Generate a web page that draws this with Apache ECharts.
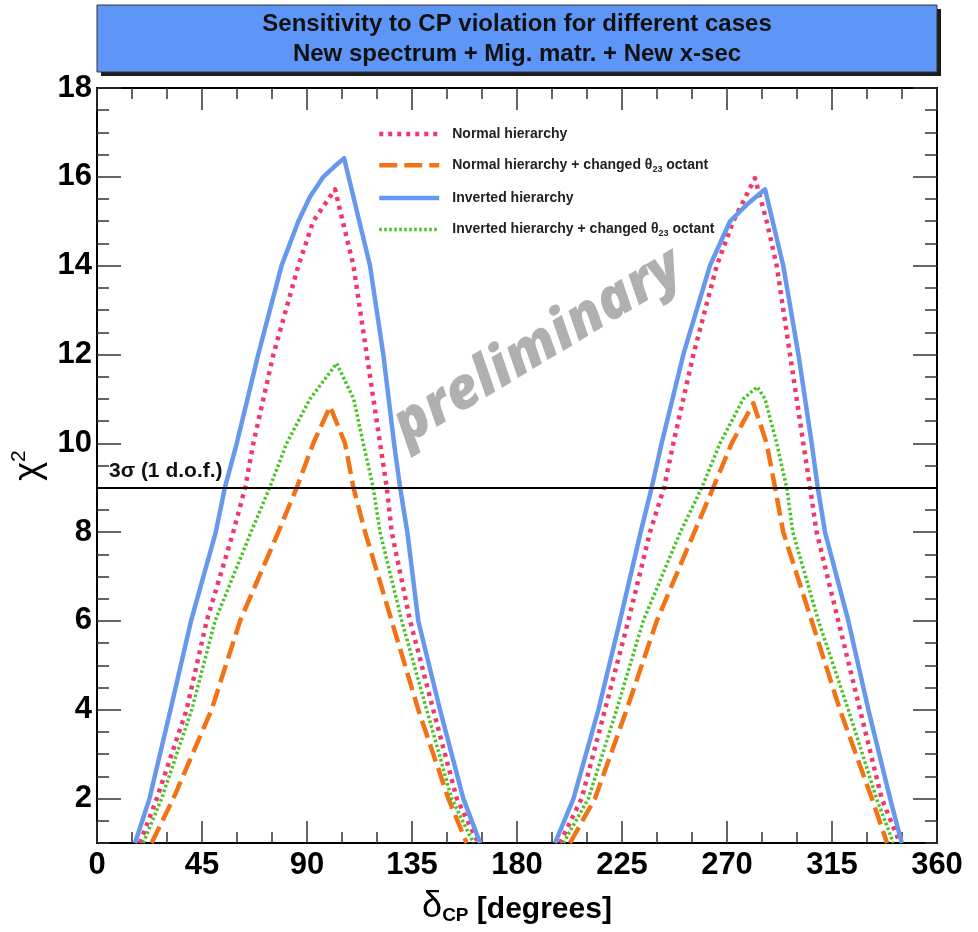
<!DOCTYPE html>
<html>
<head>
<meta charset="utf-8">
<script src="https://cdn.jsdelivr.net/npm/echarts@6/dist/echarts.min.js"></script>
<style>
  html, body { margin: 0; padding: 0; background: #fff; }
  #chart { width: 978px; height: 932px; }
</style>
</head>
<body>
<div id="chart"></div>
<script>
// chi^2 for rejecting CP conservation versus the true delta_CP (degrees).
// Each curve has two lobes; values below the plot floor are not drawn.
const normalLeft = [[18.4,1],[25.6,2],[38.4,4],[47,6],[58.4,8],[63.5,9],[67,10],[75.6,12],[86.3,14],[92.7,15],[102,15.72],[109.9,14],[115.6,12],[121.3,10],[124.2,9],[126.3,8],[134.2,6],[144.1,4],[154.2,2],[163.4,1]];
const normalRight = [[198.4,1],[207.7,2],[217.7,4],[227.7,6],[237,8],[243,9],[247,10],[255.6,12],[265.6,14],[272.7,15],[282,15.97],[287,15],[291.3,14],[297,12],[302.7,10],[305.6,9],[308.4,8],[317.7,6],[327,4],[336.3,2],[344.1,1]];

const normalOctantLeft = [[23.4,1],[32.7,2],[49.1,4],[61.3,6],[77.7,8],[85.6,9],[92.7,10],[99.9,10.83],[106.3,10],[109.9,9],[114.9,8],[126.3,6],[137.7,4],[150.6,2],[158.4,1]];
const normalOctantRight = [[202.7,1],[213.4,2],[227,4],[239.9,6],[256,8],[264.1,9],[272,10],[281.3,10.9],[287,10],[290.6,9],[294.1,8],[306.3,6],[318.4,4],[332.1,2],[338.6,1]];

const invertedLeft = [[16.3,1],[22.5,2],[31.5,4],[40.3,6],[50.9,8],[54.8,9],[59.9,10],[69.1,12],[79.1,14],[86.3,15],[91.3,15.55],[97,16],[101.5,16.22],[105.9,16.42],[117,14],[122.7,12],[127.3,10],[129.9,9],[133,8],[137.7,6],[147,4],[157,2],[164.2,1]];
const invertedRight = [[196.3,1],[204.2,2],[214.9,4],[224.1,6],[233,8],[237.7,9],[242,10],[251.3,12],[262.7,14],[271.3,15],[278.4,15.37],[286.3,15.72],[294.1,14],[300.6,12],[306.3,10],[308.9,9],[312,8],[322,6],[330.6,4],[339.9,2],[344.9,1]];

const invertedOctantLeft = [[19.8,1],[27.7,2],[40.6,4],[50.6,6],[66,8],[74,9],[81.3,10],[91.3,11],[102.7,11.8],[110,11],[114.1,10],[118.4,9],[121.3,8],[130.6,6],[141.3,4],[152,2],[161.3,1]];
const invertedOctantRight = [[199.9,1],[210.6,2],[222.7,4],[234.1,6],[250,8],[259.2,9],[267,10],[277,11],[283,11.27],[286.3,11],[291.3,10],[295.6,9],[298.2,8],[309.2,6],[322,4],[334.1,2],[341.3,1]];

const seriesNames = [
  'Normal hierarchy',
  'Normal hierarchy + changed θ23 octant',
  'Inverted hierarchy',
  'Inverted hierarchy + changed θ23 octant'
];

const threeSigma = 9;               // chi^2 for 3 sigma, 1 degree of freedom
const xTickLabels = [0, 45, 90, 135, 180, 225, 270, 315, 360];
const yTickLabels = [2, 4, 6, 8, 10, 12, 14, 16, 18];

const sans = "'Liberation Sans', Arial, sans-serif";

// left lobe, a gap, then right lobe
function lobes(a, b) { return a.concat([[null, null]], b); }

const chart = echarts.init(document.getElementById('chart'), null, { renderer: 'canvas' });

const tickStyle = { color: '#333', width: 1.5 };
const frameLine = { show: true, lineStyle: { color: '#000', width: 2 } };

function lineSeries(name, data, color, width, type) {
  return {
    name: name,
    type: 'line',
    data: data,
    xAxisIndex: 0,
    yAxisIndex: 0,
    showSymbol: false,
    symbol: 'none',
    connectNulls: false,
    clip: true,
    lineStyle: { color: color, width: width, type: type, cap: 'butt', join: 'round' },
    itemStyle: { color: color },
    emphasis: { disabled: true },
    z: 3
  };
}

const option = {
  animation: false,
  backgroundColor: '#fff',
  grid: {
    left: 97, top: 88, right: 41, bottom: 89,
    show: true, borderColor: '#000', borderWidth: 2, backgroundColor: '#fff'
  },
  xAxis: [
    {
      type: 'value', position: 'bottom', min: 0, max: 360, interval: 45,
      axisLine: frameLine,
      axisTick: { show: true, inside: true, length: 22, lineStyle: tickStyle },
      minorTick: { show: true, splitNumber: 3, length: 11, lineStyle: tickStyle },
      splitLine: { show: false },
      axisLabel: {
        margin: 7, color: '#000', fontFamily: sans, fontWeight: 'bold', fontSize: 31,
        customValues: xTickLabels
      },
      name: '{d|δ}{s|CP}{t| [degrees]}',
      nameLocation: 'middle',
      nameGap: 46,
      nameTextStyle: {
        rich: {
          d: { fontFamily: sans, fontSize: 36, color: '#000', verticalAlign: 'bottom' },
          s: { fontFamily: sans, fontWeight: 'bold', fontSize: 19, color: '#000', padding: [14, 0, 0, 0], verticalAlign: 'bottom' },
          t: { fontFamily: sans, fontWeight: 'bold', fontSize: 30, color: '#000', verticalAlign: 'bottom' }
        }
      }
    },
    {
      type: 'value', position: 'top', min: 0, max: 360, interval: 45,
      axisLine: frameLine,
      axisTick: { show: true, inside: true, length: 22, lineStyle: tickStyle },
      minorTick: { show: true, splitNumber: 3, length: 11, lineStyle: tickStyle },
      splitLine: { show: false },
      axisLabel: { show: false }
    }
  ],
  yAxis: [
    {
      type: 'value', position: 'left', min: 1, max: 18,
      axisLine: frameLine,
      axisTick: { show: true, inside: true, length: 24, lineStyle: tickStyle, customValues: yTickLabels },
      splitLine: { show: false },
      axisLabel: {
        margin: 5, color: '#000', fontFamily: sans, fontWeight: 'bold', fontSize: 31,
        customValues: yTickLabels
      },
      name: '{c|χ}{p|2}',
      nameLocation: 'middle',
      nameRotate: 90,
      nameGap: 40,
      nameTextStyle: {
        rich: {
          c: { fontFamily: sans, fontSize: 36, color: '#000' },
          p: { fontFamily: sans, fontSize: 21, color: '#000', padding: [0, 0, 18, 0] }
        }
      }
    },
    {
      type: 'value', position: 'left', min: 1, max: 18, interval: 0.5,
      axisLine: { show: false },
      axisTick: { show: true, inside: true, length: 12, lineStyle: tickStyle },
      splitLine: { show: false },
      axisLabel: { show: false }
    },
    {
      type: 'value', position: 'right', min: 1, max: 18,
      axisLine: frameLine,
      axisTick: { show: true, inside: true, length: 24, lineStyle: tickStyle, customValues: yTickLabels },
      splitLine: { show: false },
      axisLabel: { show: false }
    },
    {
      type: 'value', position: 'right', min: 1, max: 18, interval: 0.5,
      axisLine: { show: false },
      axisTick: { show: true, inside: true, length: 12, lineStyle: tickStyle },
      splitLine: { show: false },
      axisLabel: { show: false }
    }
  ],
  legend: {
    show: true,
    orient: 'vertical',
    left: 377,
    top: 127,
    padding: 0,
    itemWidth: 60,
    itemHeight: 14,
    itemGap: 17.3,
    selectedMode: false,
    data: seriesNames,
    itemStyle: { color: 'rgba(0,0,0,0)', borderWidth: 0, opacity: 0 },
    lineStyle: { width: 'inherit', type: 'inherit', color: 'inherit' },
    formatter: function (name) {
      if (name.indexOf('θ23') >= 0) {
        const parts = name.split('θ23');
        return '{b|' + parts[0] + 'θ}{s|23}{b|' + parts[1] + '}';
      }
      return '{b|' + name + '}';
    },
    textStyle: {
      padding: [0, 0, 0, 8],
      rich: {
        b: { fontFamily: sans, fontWeight: 'bold', fontSize: 14, color: '#222' },
        s: { fontFamily: sans, fontWeight: 'bold', fontSize: 9, color: '#222', padding: [8, 0, 0, 0] }
      }
    }
  },
  graphic: [
    // title banner with drop shadow
    { type: 'rect', shape: { x: 101, y: 9, width: 840, height: 67 }, style: { fill: '#1c1c1c' }, z: 10 },
    { type: 'rect', shape: { x: 97, y: 5, width: 840, height: 67 }, style: { fill: '#5e96f7', stroke: '#333', lineWidth: 1 }, z: 11 },
    {
      type: 'text', x: 517, y: 24, z: 12,
      style: { text: 'Sensitivity to CP violation for different cases', font: "bold 24px " + sans, fill: '#111', align: 'center', verticalAlign: 'middle' }
    },
    {
      type: 'text', x: 517, y: 54, z: 12,
      style: { text: 'New spectrum + Mig. matr. + New x-sec', font: "bold 24px " + sans, fill: '#111', align: 'center', verticalAlign: 'middle' }
    },
    // watermark
    {
      type: 'text', x: 538, y: 347, rotation: 31 * Math.PI / 180, z: 1,
      style: { text: 'preliminary', font: "italic 800 57px 'Open Sans', sans-serif", fill: '#b0b0b0', align: 'center', verticalAlign: 'middle' }
    }
  ],
  series: [
    lineSeries(seriesNames[0], lobes(normalLeft, normalRight), '#f0386b', 4.5, [4, 5]),
    lineSeries(seriesNames[1], lobes(normalOctantLeft, normalOctantRight), '#f47216', 4.5, [18, 7]),
    lineSeries(seriesNames[2], lobes(invertedLeft, invertedRight), '#6699ee', 4.5, 'solid'),
    lineSeries(seriesNames[3], lobes(invertedOctantLeft, invertedOctantRight), '#44c41e', 3.5, [2.5, 2.5]),
    {
      name: '3sigma',
      type: 'line',
      data: [],
      xAxisIndex: 0,
      yAxisIndex: 0,
      markLine: {
        silent: true,
        symbol: 'none',
        animation: false,
        lineStyle: { color: '#000', width: 2, type: 'solid' },
        label: {
          show: true,
          position: 'insideStartTop',
          distance: [12, 6],
          formatter: '3σ (1 d.o.f.)',
          fontFamily: sans, fontSize: 21, fontWeight: 'bold', color: '#111'
        },
        data: [{ yAxis: threeSigma }]
      },
      z: 4
    }
  ]
};

chart.setOption(option);
</script>
</body>
</html>
